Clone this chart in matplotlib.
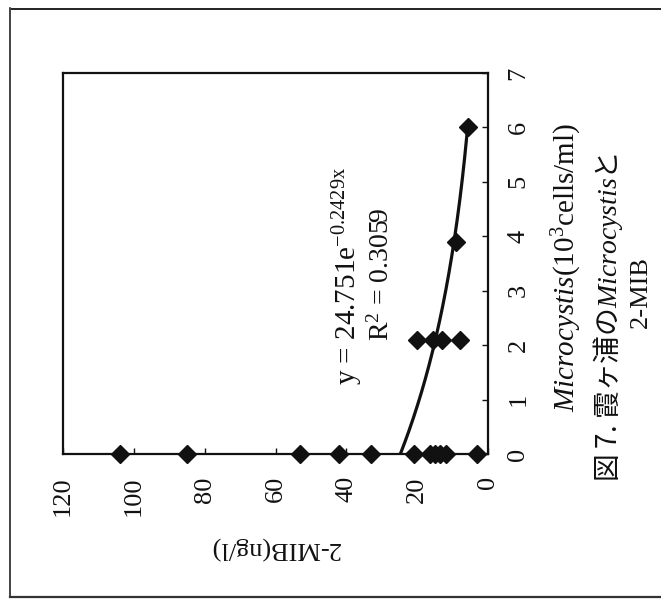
import numpy as np
import matplotlib
matplotlib.use('Agg')
import matplotlib.pyplot as plt
from matplotlib.lines import Line2D

plt.rcParams['font.family'] = ['Liberation Serif', 'Noto Sans CJK JP']
plt.rcParams['mathtext.fontset'] = 'custom'
plt.rcParams['mathtext.rm'] = 'Liberation Serif'
plt.rcParams['mathtext.it'] = 'Liberation Serif:italic'

# Microcystis (10^3 cells/ml) と 2-MIB (ng/l)
microcystis = [0, 0, 0, 0, 0, 0, 0, 0, 0, 0, 0,
               2.1, 2.1, 2.1, 2.1, 3.9, 6.0]
mib = [104, 85, 53, 42, 33, 21, 16.5, 15, 13.5, 12, 3,
       20, 15.5, 13, 8, 9, 5.6]

# 指数近似 y = a*exp(b*x)
fit_a = 24.751
fit_b = -0.2429
fit_r2 = 0.3059

mib_ticks = [0, 20, 40, 60, 80, 100, 120]
micro_ticks = [0, 1, 2, 3, 4, 5, 6, 7]

W, H = 661, 601
ink = '#111111'

def fx(px):
    return px / W

def fy(py):
    return 1 - py / H

fig = plt.figure(figsize=(W / 100, H / 100), dpi=100)

# 図は横向き(90度回転)で組まれている
ax = fig.add_axes([fx(63), fy(454), (488 - 63) / W, (454 - 73) / H])

xs = np.linspace(0, 6, 200)
ax.plot(fit_a * np.exp(fit_b * xs), xs, color=ink, lw=2.3, zorder=2)
ax.plot(mib, microcystis, 'D', ms=9, color=ink, zorder=3, clip_on=False)

ax.set_xlim(120, 0)
ax.set_ylim(0, 7)
ax.set_xticks(mib_ticks)
ax.set_yticks(micro_ticks)
ax.yaxis.tick_right()
ax.tick_params(direction='in', length=4, width=1, colors=ink, labelsize=19)
ax.tick_params(axis='x', pad=16, labelrotation=90)
ax.tick_params(axis='y', pad=14, labelrotation=90)
for lbl in ax.get_yticklabels():
    lbl.set_va('center')
for sp in ax.spines.values():
    sp.set_linewidth(1.6)
    sp.set_color(ink)

fig.text(fx(348), fy(276), r'y = 24.751e$^{\mathrm{-0.2429x}}$',
         rotation=90, ha='center', va='center', fontsize=21, color=ink)
fig.text(fx(381), fy(274), r'R$^{2}$ = %.4f' % fit_r2,
         rotation=90, ha='center', va='center', fontsize=20, color=ink)

fig.text(fx(275), fy(548), '2-MIB(ng/l)', rotation=180,
         ha='center', va='center', fontsize=19, color=ink)
fig.text(fx(567), fy(268), r'$\mathit{Microcystis}$(10$^{3}$cells/ml)',
         rotation=90, ha='center', va='center', fontsize=21, color=ink)

fig.text(fx(608), fy(317), r'図 7. 霞ヶ浦の$\mathit{Microcystis}$と',
         rotation=90, ha='center', va='center', fontsize=20, color=ink,
         family='Noto Sans CJK JP')
fig.text(fx(641), fy(292), '2-MIB', rotation=90,
         ha='center', va='center', fontsize=19, color=ink)

# 外枠
fig.add_artist(Line2D([fx(12), 1], [fy(9), fy(9)], transform=fig.transFigure,
                      color='#222222', lw=1.4))
fig.add_artist(Line2D([fx(10), fx(10)], [fy(8), fy(597)], transform=fig.transFigure,
                      color='#222222', lw=1.2))
fig.add_artist(Line2D([fx(10), 1], [fy(597), fy(597)], transform=fig.transFigure,
                      color='#333333', lw=1.6))

fig.savefig('out.png', dpi=100)
